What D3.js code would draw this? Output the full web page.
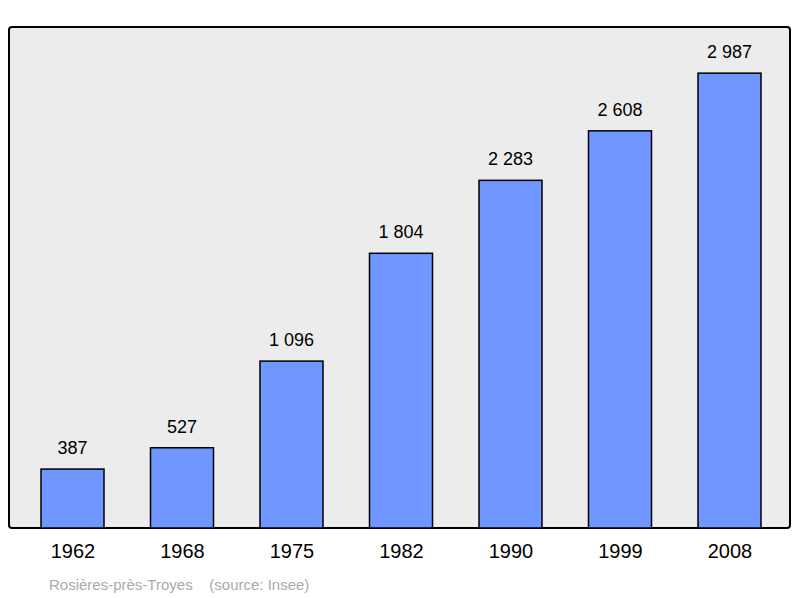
<!DOCTYPE html>
<html><head><meta charset="utf-8">
<script src="https://cdn.jsdelivr.net/npm/d3@7"></script>
<style>body{margin:0;background:#fff}</style></head>
<body><svg id="c" width="800" height="598"></svg>
<script>
const years = ["1962","1968","1975","1982","1990","1999","2008"];
const population = [387,527,1096,1804,2283,2608,2987];
const labels = ["387","527","1 096","1 804","2 283","2 608","2 987"];
const svg = d3.select("#c");
const font = "Liberation Sans, Arial, sans-serif";
svg.append("rect").attr("x",9).attr("y",27).attr("width",781).attr("height",501)
  .attr("rx",3).attr("fill","#ececec").attr("stroke","#000").attr("stroke-width",2);
const x = d3.scalePoint().domain(years).range([17.75,784.25]).padding(0.5);
const y = d3.scaleLinear().domain([0,3290]).range([528,27]);
const bw = 63;
const g = svg.append("g");
g.selectAll("rect.b").data(years).join("rect").attr("class","b")
  .attr("x",d=>x(d)-bw/2).attr("width",bw)
  .attr("y",(d,i)=>y(population[i])).attr("height",(d,i)=>528-y(population[i]))
  .attr("fill","#7097ff").attr("stroke","#000").attr("stroke-width",1.5);
g.selectAll("text.v").data(years).join("text").attr("class","v")
  .attr("x",d=>x(d)).attr("y",(d,i)=>y(population[i])-15)
  .attr("text-anchor","middle").attr("font-family",font).attr("font-size",18)
  .text((d,i)=>labels[i]);
svg.append("g").attr("transform","translate(0,528)")
  .call(d3.axisBottom(x).tickSize(0).tickPadding(16))
  .call(a=>a.select(".domain").remove())
  .selectAll("text").attr("font-family",font).attr("font-size",20).attr("fill","#000");
svg.append("text").attr("x",49).attr("y",590).attr("font-family",font)
  .attr("font-size",15).attr("fill","#aaa").attr("xml:space","preserve")
  .text("Rosières-près-Troyes    (source: Insee)");
</script></body></html>
